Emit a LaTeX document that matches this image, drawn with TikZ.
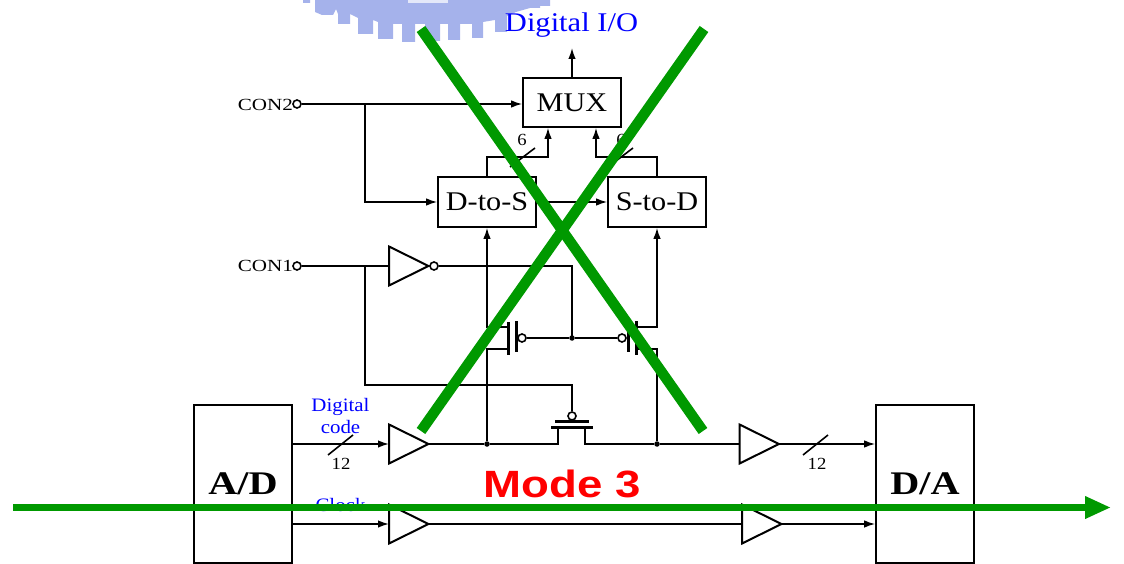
\documentclass[tikz,border=0pt]{standalone}
\usepackage{graphicx}
\usepackage{fontspec}
\setmainfont{Liberation Serif}
\setsansfont{Liberation Sans}
\usetikzlibrary{arrows.meta}
\newcommand{\wtxt}[2]{\scalebox{#1}[1]{#2}}
\tikzset{
  wire/.style={draw=black,line width=1.6pt},
  flow/.style={wire,-{Latex[length=11pt,width=7.5pt]}},
  blockbox/.style={draw=black,line width=1.6pt,fill=white,inner sep=0pt,text=black,font=\fontsize{27}{30}\selectfont},
  bigbox/.style={draw=black,line width=1.6pt,inner sep=0pt},
  bufshape/.style={draw=black,line width=2pt,fill=white,line join=miter},
  small/.style={font=\fontsize{17}{20}\selectfont,inner sep=0pt,text=black},
  bluetxt/.style={font=\fontsize{19}{20}\selectfont,inner sep=0pt,text=blue},
  bub/.style={circle,draw=black,line width=1.6pt,fill=white,minimum size=8pt,inner sep=0pt},
  dotn/.style={circle,fill=black,minimum size=5.5pt,inner sep=0pt},
  cross/.style={draw=xgreen,line width=10.5pt},
  bar/.style={draw=black,line width=3pt},
}
\definecolor{xgreen}{RGB}{0,153,0}
\definecolor{logoc}{RGB}{165,178,235}
\newcommand{\bufpath}[2]{(#1,#2-19.5) -- (#1+39.5,#2) -- (#1,#2+19.5) -- cycle}
\begin{document}
\begin{tikzpicture}[x=1pt,y=-1pt]
\useasboundingbox (0,0) rectangle (1124,564);
% logo
\fill[logoc] (303,0) -- (303,3) -- (310,3) -- (310,0) -- (315,0) -- (315,12) -- (322,15) -- (333,15) -- (336,9) -- (338,14) -- (338,24) -- (350,24) -- (350,14) -- (358,18) -- (358,34) -- (373,34) -- (373,20) -- (378,22) -- (378,39) -- (393,39) -- (393,24) -- (402,24) -- (402,42) -- (415,42) -- (415,24) -- (425,24) -- (425,41) -- (440,41) -- (440,24) -- (448,24) -- (448,40) -- (460,40) -- (460,24) -- (472,24) -- (472,38) -- (483,38) -- (483,22) -- (495,20) -- (495,32) -- (507,32) -- (507,16) -- (516,12) -- (530,8) -- (540,8) -- (540,6) -- (550,6) -- (550,0) -- cycle;
\fill[white!70!logoc] (408,0) rectangle (448,3);
% boxes
\node[bigbox,minimum width=98pt,minimum height=158pt] (ad) at (243,484) {};
\node[bigbox,minimum width=98pt,minimum height=158pt] (da) at (925,484) {};
\node[font=\fontsize{33}{36}\selectfont\bfseries,inner sep=0pt] (adt) at (243,484) {\wtxt{1.22}{A/D}};
\node[font=\fontsize{33}{36}\selectfont\bfseries,inner sep=0pt] (dat) at (925,484) {\wtxt{1.22}{D/A}};
\node[blockbox,minimum width=98pt,minimum height=49pt] (mux) at (572,102.5) {\wtxt{1.12}{MUX}};
\node[blockbox,minimum width=98pt,minimum height=50pt] (ds) at (487,202) {\wtxt{1.12}{D-to-S}};
\node[blockbox,minimum width=98pt,minimum height=50pt] (sd) at (657,202) {\wtxt{1.12}{S-to-D}};
% terminals
\node[bub] (con2) at (297,104) {};
\node[bub] (con1) at (297,266) {};
\node[small,anchor=east] (con2t) at (293,105) {\wtxt{1.24}{CON2}};
\node[small,anchor=east] (con1t) at (293,266) {\wtxt{1.24}{CON1}};
\coordinate (j2) at (365,104);
\coordinate (j1) at (365,266);
\coordinate (out) at (572,48);
% top wiring
\draw[flow] (mux.north) -- (out);
\draw[flow] (con2) -- (mux.west |- con2);
\draw[flow] (j2) |- (ds.west);
\draw[flow] (ds.east) -- (sd.west);
\coordinate (dsup) at (487,157);
\coordinate (sdup) at (657,157);
\coordinate (m1) at (548,157);
\coordinate (m2) at (596,157);
\draw[flow] (ds.north) -- (dsup) -- (m1) -- (m1 |- mux.south);
\draw[flow] (sd.north) -- (sdup) -- (m2) -- (m2 |- mux.south);
% buffers
\draw[bufshape] \bufpath{389}{266};
\coordinate (invin) at (389,266);
\coordinate (invout) at (428.5,266);
\node[bub] (invb) at (434,266) {};
\draw[bufshape] \bufpath{389}{444};
\draw[bufshape] \bufpath{739.5}{444};
\draw[bufshape] \bufpath{389}{524};
\draw[bufshape] \bufpath{742}{524};
\coordinate (b1i) at (389,444); \coordinate (b1o) at (428.5,444);
\coordinate (b2i) at (739.5,444); \coordinate (b2o) at (779,444);
\coordinate (b3i) at (389,524); \coordinate (b3o) at (428.5,524);
\coordinate (b4i) at (742,524); \coordinate (b4o) at (781.5,524);
\draw[wire] (con1) -- (invin);
\draw[wire] (invb) -- (572,266) -- (572,338);
\draw[flow] (ad.east |- b1i) -- (b1i);
\draw[flow] (ad.east |- b3i) -- (b3i);
\draw[flow] (b2o) -- (da.west |- b2o);
\draw[flow] (b4o) -- (da.west |- b4o);
\draw[wire] (b3o) -- (b4i);
% pmos pair
\node[bub] (pl) at (522,338) {};
\node[bub] (pr) at (622,338) {};
\node[dotn] (jg) at (572,338) {};
\draw[wire] (pl) -- (jg) -- (pr);
\draw[bar] (508,322) -- (508,355);
\draw[bar] (516,321) -- (516,352);
\draw[bar] (628,323) -- (628,352);
\draw[bar] (636,321) -- (636,355);
\node[dotn] (jl) at (487,444) {};
\node[dotn] (jr) at (657,444) {};
\draw[flow] (508,327) -- (487,327) -- (ds.south);
\draw[flow] (636,327) -- (657,327) -- (sd.south);
\draw[wire] (508,349) -- (487,349) -- (jl);
\draw[wire] (636,349) -- (657,349) -- (jr);
% pass gate
\node[bub] (pb) at (572,416) {};
\draw[wire] (j1) -- (365,385) -- (572,385) -- (pb);
\draw[bar] (555,421) -- (589,421);
\draw[bar] (551,427.5) -- (593,427.5);
\draw[wire] (b1o) -- (jl) -- (558,444) -- (558,427.5);
\draw[wire] (b2i) -- (jr) -- (585,444) -- (585,427.5);
% bus slashes
\coordinate (s1a) at (510,167); \coordinate (s1b) at (535,148);
\coordinate (s2a) at (608,167); \coordinate (s2b) at (633,148);
\coordinate (s3a) at (328,455); \coordinate (s3b) at (353,435);
\coordinate (s4a) at (803,455); \coordinate (s4b) at (828,435);
\draw[wire] (s1a) -- (s1b);
\draw[wire] (s2a) -- (s2b);
\draw[wire] (s3a) -- (s3b);
\draw[wire] (s4a) -- (s4b);
\node[small] (six1) at (522,139.5) {\wtxt{1.1}{6}};
\node[small] (six2) at (621,139.5) {\wtxt{1.1}{6}};
\node[small] (tw1) at (341,464) {\wtxt{1.1}{12}};
\node[small] (tw2) at (817,464) {\wtxt{1.1}{12}};
% blue labels
\node[bluetxt] (dig) at (340.5,406.5) {\wtxt{1.1}{Digital}};
\node[bluetxt] (cod) at (340.5,426.5) {\wtxt{1.1}{code}};
\node[bluetxt] (clk) at (340.5,505) {\wtxt{1.1}{Clock}};
\node[text=blue,font=\fontsize{27}{30}\selectfont,inner sep=0pt] (dio) at (571.5,25) {\wtxt{1.13}{Digital I/O}};
\node[text=red,font=\sffamily\bfseries\fontsize{38}{42}\selectfont,inner sep=0pt] (mode) at (562,483.5) {\wtxt{1.2}{Mode 3}};
% green overlay
\coordinate (x1) at (421,29); \coordinate (x2) at (703,431);
\coordinate (x3) at (704,29); \coordinate (x4) at (421,431);
\coordinate (h1) at (13,507.5); \coordinate (h2) at (1111,507.5);
\draw[cross] (x1) -- (x2);
\draw[cross] (x3) -- (x4);
\draw[draw=xgreen,line width=7.5pt,-{Triangle[length=26pt,width=21pt,fill=xgreen]}] (h1) -- (h2);
\end{tikzpicture}
\end{document}
